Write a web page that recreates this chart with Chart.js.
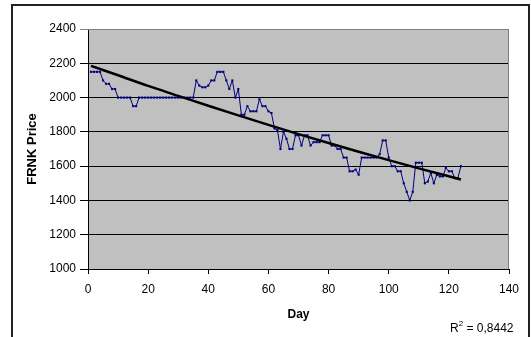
<!DOCTYPE html>
<html>
<head>
<meta charset="utf-8">
<script src="https://cdn.jsdelivr.net/npm/chart.js@4/dist/chart.umd.min.js"></script>
<style>
  body { margin: 0; background: #fff; }
  canvas { display: block; }
</style>
</head>
<body>
<canvas id="myChart" width="531" height="337"></canvas>
<script>
// FRNK closing price per day (day 1 .. 124)
var prices = [
  2150, 2150, 2150, 2150, 2100, 2080, 2080, 2050, 2050, 2000,
  2000, 2000, 2000, 2000, 1950, 1950, 2000, 2000, 2000, 2000,
  2000, 2000, 2000, 2000, 2000, 2000, 2000, 2000, 2000, 2000,
  2000, 2000, 2000, 2000, 2000, 2100, 2070, 2060, 2060, 2070,
  2100, 2100, 2150, 2150, 2150, 2100, 2050, 2100, 2000, 2050,
  1900, 1900, 1950, 1920, 1920, 1920, 1990, 1950, 1950, 1920,
  1910, 1820, 1810, 1700, 1800, 1760, 1700, 1700, 1780, 1780,
  1720, 1780, 1780, 1720, 1740, 1740, 1740, 1780, 1780, 1780,
  1720, 1720, 1700, 1700, 1650, 1650, 1570, 1570, 1580, 1550,
  1650, 1650, 1650, 1650, 1650, 1650, 1670, 1750, 1750, 1650,
  1600, 1600, 1570, 1570, 1500, 1450, 1400, 1450, 1620, 1620,
  1620, 1500, 1510, 1560, 1500, 1550, 1540, 1540, 1590, 1570,
  1570, 1530, 1530, 1600
]
var firstDay = 1

// trendline
var trendDays   = [1, 10, 20, 30, 40, 50, 60, 70, 80, 90, 100, 110, 124]
var trendValues = [2185, 2130, 2068, 2010, 1952, 1896, 1841, 1787, 1735, 1684, 1635, 1587, 1522]

var xTicks = [0, 20, 40, 60, 80, 100, 120, 140]
var yTicks = [1000, 1200, 1400, 1600, 1800, 2000, 2200, 2400]
var rSquared = "0,8442"

var series = prices.map(function(p, i){ return {x: firstDay + i, y: p} })
var trend = trendDays.map(function(d, i){ return {x: d, y: trendValues[i]} })

Chart.defaults.font.family = "'Liberation Sans', Arial, sans-serif"
Chart.defaults.font.size = 12
Chart.defaults.color = "#000"

var excelFrame = {
  id: 'excelFrame',
  beforeDraw: function(chart){
    var ctx = chart.ctx, a = chart.chartArea
    ctx.save()
    ctx.fillStyle = "#c0c0c0"
    ctx.fillRect(a.left, a.top, a.right - a.left, a.bottom - a.top)
    ctx.restore()
  },
  afterDraw: function(chart){
    var ctx = chart.ctx, a = chart.chartArea
    ctx.save()
    // plot area border top / right
    ctx.strokeStyle = "#808080"
    ctx.lineWidth = 1
    ctx.beginPath()
    ctx.moveTo(a.left, a.top + 0.5)
    ctx.lineTo(a.right - 0.5, a.top + 0.5)
    ctx.lineTo(a.right - 0.5, a.bottom)
    ctx.stroke()
    // outer chart border
    ctx.strokeStyle = "#222"
    ctx.lineWidth = 2
    ctx.strokeRect(12, 5, 517, 340)
    // R^2 label
    ctx.fillStyle = "#000"
    ctx.textBaseline = "alphabetic"
    ctx.font = "12px 'Liberation Sans', Arial, sans-serif"
    var x = 450, y = 332
    ctx.fillText("R", x, y)
    x += ctx.measureText("R").width
    ctx.font = "8px 'Liberation Sans', Arial, sans-serif"
    ctx.fillText("2", x, y - 6)
    x += ctx.measureText("2").width
    ctx.font = "12px 'Liberation Sans', Arial, sans-serif"
    ctx.fillText(" = " + rSquared, x, y)
    ctx.restore()
  }
}

var myChart = document.getElementById("myChart").getContext('2d')
var chart = new Chart(myChart, {
  type: 'line',
  data: {
    datasets: [
      {
        label: "Trend",
        data: trend,
        borderColor: "#000",
        borderWidth: 2.5,
        pointRadius: 0,
        cubicInterpolationMode: 'monotone',
        order: 0
      },
      {
        label: "FRNK Price",
        data: series,
        borderColor: "#000080",
        borderWidth: 1,
        pointStyle: 'rect',
        pointRadius: 1.5,
        pointBackgroundColor: "#000080",
        pointBorderWidth: 0,
        order: 1
      }
    ]
  },
  options: {
    responsive: false,
    animation: false,
    layout: { padding: { top: 29, right: 22, left: 0, bottom: 0 } },
    plugins: { legend: { display: false }, tooltip: { enabled: false } },
    scales: {
      x: {
        type: 'linear',
        min: xTicks[0],
        max: xTicks[xTicks.length - 1],
        afterBuildTicks: function(s){ s.ticks = xTicks.map(function(v){ return {value: v} }) },
        afterFit: function(s){ s.height = 68 },
        grid: { drawOnChartArea: false, drawTicks: true, tickLength: 5, color: "#000" },
        border: { color: "#000", width: 1 },
        ticks: { padding: 8, maxRotation: 0, callback: function(v){ return String(v) } },
        title: { display: true, text: "Day", font: { weight: 'bold', size: 12 }, padding: { top: 0, bottom: 15 } }
      },
      y: {
        min: yTicks[0],
        max: yTicks[yTicks.length - 1],
        afterBuildTicks: function(s){ s.ticks = yTicks.map(function(v){ return {value: v} }) },
        afterFit: function(s){ s.width = 88 },
        grid: {
          tickLength: 8,
          color: function(c){ return c.tick && c.tick.value === 2400 ? "#808080" : "#000" }
        },
        border: { color: "#000", width: 1 },
        ticks: { padding: 4, callback: function(v){ return String(v) } },
        title: { display: true, text: "FRNK Price", font: { weight: 'bold', size: 13 }, padding: { top: 25, bottom: 0 } }
      }
    }
  },
  plugins: [excelFrame]
})
</script>
</body>
</html>
